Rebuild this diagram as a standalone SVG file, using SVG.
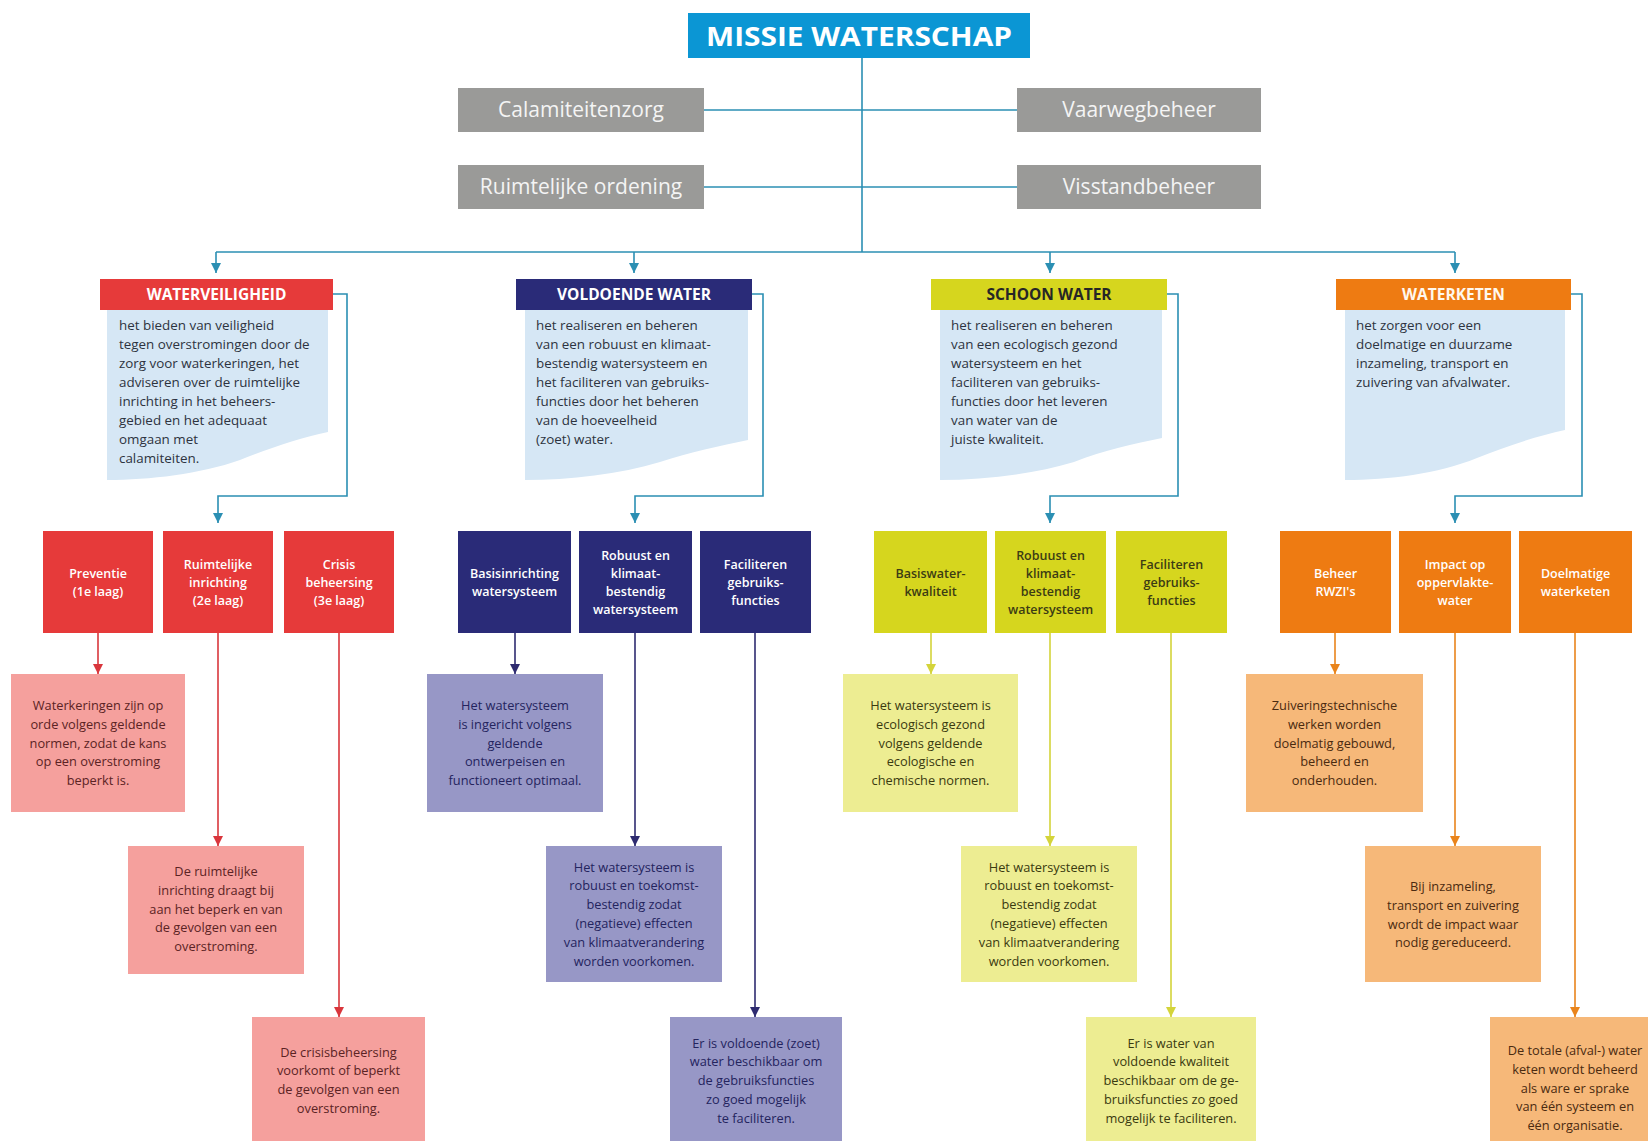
<svg xmlns="http://www.w3.org/2000/svg" width="1648" height="1141" viewBox="0 0 1648 1141">
<defs>
<style>
text{font-family:"Open Sans","Liberation Sans",sans-serif}
.title{font-size:27px;font-weight:700;fill:#fff}
.gray{fill:#9a9a98}
.gt{font-size:21px;fill:#f4f4f4;text-anchor:middle}
.hd{font-size:15.5px;font-weight:700;text-anchor:middle}
.desc{fill:#d6e7f5}
.dt{font-size:13.4px;fill:#2d3340}
.lb{font-size:12.5px;font-weight:600;text-anchor:middle}
.rt{font-size:12.8px;text-anchor:middle}
.c{fill:none;stroke-width:1.6}
.teal{stroke:#2b8fb3}
.red{stroke:#d9363c}
.navy{stroke:#2e2b70}
.yel{stroke:#d4d43a}
.ora{stroke:#e9841c}
</style>
<marker id="mTeal" markerUnits="userSpaceOnUse" markerWidth="12" markerHeight="10" refX="10" refY="5" orient="auto"><path d="M0,0 L10,5 L0,10 z" fill="#2b8fb3"/></marker>
<marker id="mRed" markerUnits="userSpaceOnUse" markerWidth="12" markerHeight="10" refX="10" refY="5" orient="auto"><path d="M0,0 L10,5 L0,10 z" fill="#d9363c"/></marker>
<marker id="mNavy" markerUnits="userSpaceOnUse" markerWidth="12" markerHeight="10" refX="10" refY="5" orient="auto"><path d="M0,0 L10,5 L0,10 z" fill="#2e2b70"/></marker>
<marker id="mYel" markerUnits="userSpaceOnUse" markerWidth="12" markerHeight="10" refX="10" refY="5" orient="auto"><path d="M0,0 L10,5 L0,10 z" fill="#d4d43a"/></marker>
<marker id="mOra" markerUnits="userSpaceOnUse" markerWidth="12" markerHeight="10" refX="10" refY="5" orient="auto"><path d="M0,0 L10,5 L0,10 z" fill="#e9841c"/></marker>
</defs>
<rect width="1648" height="1141" fill="#fff"/>

<g id="connectors">
<path class="c teal" d="M862,58 V252"/>
<path class="c teal" d="M704,110 H1017"/>
<path class="c teal" d="M704,187 H1017"/>
<path class="c teal" d="M216,252 H1455"/>
<path class="c teal" d="M216,252 V273" marker-end="url(#mTeal)"/>
<path class="c teal" d="M634,252 V273" marker-end="url(#mTeal)"/>
<path class="c teal" d="M1050,252 V273" marker-end="url(#mTeal)"/>
<path class="c teal" d="M1455,252 V273" marker-end="url(#mTeal)"/>
<path class="c teal" d="M333,294 H347 V496 H218 V523" marker-end="url(#mTeal)"/>
<path class="c teal" d="M752,294 H763 V496 H635 V523" marker-end="url(#mTeal)"/>
<path class="c teal" d="M1167,294 H1178 V496 H1050 V523" marker-end="url(#mTeal)"/>
<path class="c teal" d="M1571,294 H1582 V496 H1455 V523" marker-end="url(#mTeal)"/>
<path class="c red" d="M98,633 V674" marker-end="url(#mRed)"/>
<path class="c red" d="M218,633 V846" marker-end="url(#mRed)"/>
<path class="c red" d="M339,633 V1017" marker-end="url(#mRed)"/>
<path class="c navy" d="M515,633 V674" marker-end="url(#mNavy)"/>
<path class="c navy" d="M635,633 V846" marker-end="url(#mNavy)"/>
<path class="c navy" d="M755,633 V1017" marker-end="url(#mNavy)"/>
<path class="c yel" d="M931,633 V674" marker-end="url(#mYel)"/>
<path class="c yel" d="M1050,633 V846" marker-end="url(#mYel)"/>
<path class="c yel" d="M1171,633 V1017" marker-end="url(#mYel)"/>
<path class="c ora" d="M1335,633 V674" marker-end="url(#mOra)"/>
<path class="c ora" d="M1455,633 V846" marker-end="url(#mOra)"/>
<path class="c ora" d="M1575,633 V1017" marker-end="url(#mOra)"/>
</g>

<g id="missie">
<rect x="688" y="13" width="342" height="45" fill="#0b96d4"/>
<text class="title" x="859" y="46" text-anchor="middle" textLength="306" lengthAdjust="spacingAndGlyphs">MISSIE WATERSCHAP</text>
</g>
<g id="calamiteitenzorg"><rect class="gray" x="458" y="88" width="246" height="44"/><text class="gt" x="581" y="117">Calamiteitenzorg</text></g>
<g id="vaarwegbeheer"><rect class="gray" x="1017" y="88" width="244" height="44"/><text class="gt" x="1139" y="117">Vaarwegbeheer</text></g>
<g id="ruimtelijke-ordening"><rect class="gray" x="458" y="165" width="246" height="44"/><text class="gt" x="581" y="194">Ruimtelijke ordening</text></g>
<g id="visstandbeheer"><rect class="gray" x="1017" y="165" width="244" height="44"/><text class="gt" x="1139" y="194">Visstandbeheer</text></g>

<!-- WATERVEILIGHEID -->
<g id="waterveiligheid">
<path class="desc" d="M107,310 H328 V432 C300,438 270,448 240,460 C200,474 150,480 107,480 Z"/>
<rect x="100" y="279" width="233" height="31" fill="#e63a3a"/>
<text class="hd" x="216.5" y="300" fill="#fff">WATERVEILIGHEID</text>
<text class="dt" x="119" y="330"><tspan x="119">het bieden van veiligheid</tspan><tspan x="119" dy="19">tegen overstromingen door de</tspan><tspan x="119" dy="19">zorg voor waterkeringen, het</tspan><tspan x="119" dy="19">adviseren over de ruimtelijke</tspan><tspan x="119" dy="19">inrichting in het beheers-</tspan><tspan x="119" dy="19">gebied en het adequaat</tspan><tspan x="119" dy="19">omgaan met</tspan><tspan x="119" dy="19">calamiteiten.</tspan></text>
</g>
<g id="preventie"><rect x="43" y="531" width="110" height="102" fill="#e63a3a"/><text class="lb" fill="#fff" x="98" y="577.5"><tspan x="98">Preventie</tspan><tspan x="98" dy="18">(1e laag)</tspan></text></g>
<g id="ruimtelijke-inrichting"><rect x="163" y="531" width="110" height="102" fill="#e63a3a"/><text class="lb" fill="#fff" x="218" y="568.5"><tspan x="218">Ruimtelijke</tspan><tspan x="218" dy="18">inrichting</tspan><tspan x="218" dy="18">(2e laag)</tspan></text></g>
<g id="crisisbeheersing"><rect x="284" y="531" width="110" height="102" fill="#e63a3a"/><text class="lb" fill="#fff" x="339" y="568.5"><tspan x="339">Crisis</tspan><tspan x="339" dy="18">beheersing</tspan><tspan x="339" dy="18">(3e laag)</tspan></text></g>
<g id="r-preventie"><rect x="11" y="674" width="174" height="138" fill="#f5a09d"/><text class="rt" fill="#5b2324" x="98" y="710"><tspan x="98">Waterkeringen zijn op</tspan><tspan x="98" dy="18.8">orde volgens geldende</tspan><tspan x="98" dy="18.8">normen, zodat de kans</tspan><tspan x="98" dy="18.8">op een overstroming</tspan><tspan x="98" dy="18.8">beperkt is.</tspan></text></g>
<g id="r-ruimtelijke"><rect x="128" y="846" width="176" height="128" fill="#f5a09d"/><text class="rt" fill="#5b2324" x="216" y="876"><tspan x="216">De ruimtelijke</tspan><tspan x="216" dy="18.8">inrichting draagt bij</tspan><tspan x="216" dy="18.8">aan het beperk en van</tspan><tspan x="216" dy="18.8">de gevolgen van een</tspan><tspan x="216" dy="18.8">overstroming.</tspan></text></g>
<g id="r-crisis"><rect x="252" y="1017" width="173" height="130" fill="#f5a09d"/><text class="rt" fill="#5b2324" x="338.5" y="1056.5"><tspan x="338.5">De crisisbeheersing</tspan><tspan x="338.5" dy="18.8">voorkomt of beperkt</tspan><tspan x="338.5" dy="18.8">de gevolgen van een</tspan><tspan x="338.5" dy="18.8">overstroming.</tspan></text></g>

<!-- VOLDOENDE WATER -->
<g id="voldoende-water">
<path class="desc" d="M525,310 H748 V440 C720,446 690,452 660,462 C620,474 570,480 525,480 Z"/>
<rect x="516" y="279" width="236" height="31" fill="#2a2b78"/>
<text class="hd" x="634" y="300" fill="#fff">VOLDOENDE WATER</text>
<text class="dt" x="536" y="330"><tspan x="536">het realiseren en beheren</tspan><tspan x="536" dy="19">van een robuust en klimaat-</tspan><tspan x="536" dy="19">bestendig watersysteem en</tspan><tspan x="536" dy="19">het faciliteren van gebruiks-</tspan><tspan x="536" dy="19">functies door het beheren</tspan><tspan x="536" dy="19">van de hoeveelheid</tspan><tspan x="536" dy="19">(zoet) water.</tspan></text>
</g>
<g id="basisinrichting"><rect x="458" y="531" width="113" height="102" fill="#2a2b78"/><text class="lb" fill="#fff" x="514.5" y="577.5"><tspan x="514.5">Basisinrichting</tspan><tspan x="514.5" dy="18">watersysteem</tspan></text></g>
<g id="robuust-vw"><rect x="579" y="531" width="113" height="102" fill="#2a2b78"/><text class="lb" fill="#fff" x="635.5" y="559.5"><tspan x="635.5">Robuust en</tspan><tspan x="635.5" dy="18">klimaat-</tspan><tspan x="635.5" dy="18">bestendig</tspan><tspan x="635.5" dy="18">watersysteem</tspan></text></g>
<g id="faciliteren-vw"><rect x="700" y="531" width="111" height="102" fill="#2a2b78"/><text class="lb" fill="#fff" x="755.5" y="568.5"><tspan x="755.5">Faciliteren</tspan><tspan x="755.5" dy="18">gebruiks-</tspan><tspan x="755.5" dy="18">functies</tspan></text></g>
<g id="r-basisinrichting"><rect x="427" y="674" width="176" height="138" fill="#9797c6"/><text class="rt" fill="#24245e" x="515" y="710"><tspan x="515">Het watersysteem</tspan><tspan x="515" dy="18.8">is ingericht volgens</tspan><tspan x="515" dy="18.8">geldende</tspan><tspan x="515" dy="18.8">ontwerpeisen en</tspan><tspan x="515" dy="18.8">functioneert optimaal.</tspan></text></g>
<g id="r-robuust-vw"><rect x="546" y="846" width="176" height="136" fill="#9797c6"/><text class="rt" fill="#24245e" x="634" y="871.5"><tspan x="634">Het watersysteem is</tspan><tspan x="634" dy="18.8">robuust en toekomst-</tspan><tspan x="634" dy="18.8">bestendig zodat</tspan><tspan x="634" dy="18.8">(negatieve) effecten</tspan><tspan x="634" dy="18.8">van klimaatverandering</tspan><tspan x="634" dy="18.8">worden voorkomen.</tspan></text></g>
<g id="r-faciliteren-vw"><rect x="670" y="1017" width="172" height="130" fill="#9797c6"/><text class="rt" fill="#24245e" x="756" y="1047.5"><tspan x="756">Er is voldoende (zoet)</tspan><tspan x="756" dy="18.8">water beschikbaar om</tspan><tspan x="756" dy="18.8">de gebruiksfuncties</tspan><tspan x="756" dy="18.8">zo goed mogelijk</tspan><tspan x="756" dy="18.8">te faciliteren.</tspan></text></g>

<!-- SCHOON WATER -->
<g id="schoon-water">
<path class="desc" d="M940,310 H1162 V438 C1134,444 1104,450 1074,462 C1034,474 985,480 940,480 Z"/>
<rect x="931" y="279" width="236" height="31" fill="#d6d61e"/>
<text class="hd" x="1049" y="300" fill="#262626">SCHOON WATER</text>
<text class="dt" x="951" y="330"><tspan x="951">het realiseren en beheren</tspan><tspan x="951" dy="19">van een ecologisch gezond</tspan><tspan x="951" dy="19">watersysteem en het</tspan><tspan x="951" dy="19">faciliteren van gebruiks-</tspan><tspan x="951" dy="19">functies door het leveren</tspan><tspan x="951" dy="19">van water van de</tspan><tspan x="951" dy="19">juiste kwaliteit.</tspan></text>
</g>
<g id="basiswaterkwaliteit"><rect x="874" y="531" width="113" height="102" fill="#d6d61e"/><text class="lb" fill="#3c3c14" x="930.5" y="577.5"><tspan x="930.5">Basiswater-</tspan><tspan x="930.5" dy="18">kwaliteit</tspan></text></g>
<g id="robuust-sw"><rect x="995" y="531" width="111" height="102" fill="#d6d61e"/><text class="lb" fill="#3c3c14" x="1050.5" y="559.5"><tspan x="1050.5">Robuust en</tspan><tspan x="1050.5" dy="18">klimaat-</tspan><tspan x="1050.5" dy="18">bestendig</tspan><tspan x="1050.5" dy="18">watersysteem</tspan></text></g>
<g id="faciliteren-sw"><rect x="1116" y="531" width="111" height="102" fill="#d6d61e"/><text class="lb" fill="#3c3c14" x="1171.5" y="568.5"><tspan x="1171.5">Faciliteren</tspan><tspan x="1171.5" dy="18">gebruiks-</tspan><tspan x="1171.5" dy="18">functies</tspan></text></g>
<g id="r-basiswater"><rect x="843" y="674" width="175" height="138" fill="#eded92"/><text class="rt" fill="#3a3a10" x="930.5" y="710"><tspan x="930.5">Het watersysteem is</tspan><tspan x="930.5" dy="18.8">ecologisch gezond</tspan><tspan x="930.5" dy="18.8">volgens geldende</tspan><tspan x="930.5" dy="18.8">ecologische en</tspan><tspan x="930.5" dy="18.8">chemische normen.</tspan></text></g>
<g id="r-robuust-sw"><rect x="961" y="846" width="176" height="136" fill="#eded92"/><text class="rt" fill="#3a3a10" x="1049" y="871.5"><tspan x="1049">Het watersysteem is</tspan><tspan x="1049" dy="18.8">robuust en toekomst-</tspan><tspan x="1049" dy="18.8">bestendig zodat</tspan><tspan x="1049" dy="18.8">(negatieve) effecten</tspan><tspan x="1049" dy="18.8">van klimaatverandering</tspan><tspan x="1049" dy="18.8">worden voorkomen.</tspan></text></g>
<g id="r-faciliteren-sw"><rect x="1086" y="1017" width="170" height="130" fill="#eded92"/><text class="rt" fill="#3a3a10" x="1171" y="1047.5"><tspan x="1171">Er is water van</tspan><tspan x="1171" dy="18.8">voldoende kwaliteit</tspan><tspan x="1171" dy="18.8">beschikbaar om de ge-</tspan><tspan x="1171" dy="18.8">bruiksfuncties zo goed</tspan><tspan x="1171" dy="18.8">mogelijk te faciliteren.</tspan></text></g>

<!-- WATERKETEN -->
<g id="waterketen">
<path class="desc" d="M1345,310 H1565 V430 C1537,436 1507,446 1477,458 C1437,474 1390,480 1345,480 Z"/>
<rect x="1336" y="279" width="235" height="31" fill="#ee7b12"/>
<text class="hd" x="1453.5" y="300" fill="#fff8ee">WATERKETEN</text>
<text class="dt" x="1356" y="330"><tspan x="1356">het zorgen voor een</tspan><tspan x="1356" dy="19">doelmatige en duurzame</tspan><tspan x="1356" dy="19">inzameling, transport en</tspan><tspan x="1356" dy="19">zuivering van afvalwater.</tspan></text>
</g>
<g id="beheer-rwzi"><rect x="1280" y="531" width="111" height="102" fill="#ee7b12"/><text class="lb" fill="#fff" x="1335.5" y="577.5"><tspan x="1335.5">Beheer</tspan><tspan x="1335.5" dy="18">RWZI's</tspan></text></g>
<g id="impact"><rect x="1399" y="531" width="112" height="102" fill="#ee7b12"/><text class="lb" fill="#fff" x="1455" y="568.5"><tspan x="1455">Impact op</tspan><tspan x="1455" dy="18">oppervlakte-</tspan><tspan x="1455" dy="18">water</tspan></text></g>
<g id="doelmatige"><rect x="1519" y="531" width="113" height="102" fill="#ee7b12"/><text class="lb" fill="#fff" x="1575.5" y="577.5"><tspan x="1575.5">Doelmatige</tspan><tspan x="1575.5" dy="18">waterketen</tspan></text></g>
<g id="r-beheer"><rect x="1246" y="674" width="177" height="138" fill="#f6b879"/><text class="rt" fill="#4a2a10" x="1334.5" y="710"><tspan x="1334.5">Zuiveringstechnische</tspan><tspan x="1334.5" dy="18.8">werken worden</tspan><tspan x="1334.5" dy="18.8">doelmatig gebouwd,</tspan><tspan x="1334.5" dy="18.8">beheerd en</tspan><tspan x="1334.5" dy="18.8">onderhouden.</tspan></text></g>
<g id="r-impact"><rect x="1365" y="846" width="176" height="136" fill="#f6b879"/><text class="rt" fill="#4a2a10" x="1453" y="891"><tspan x="1453">Bij inzameling,</tspan><tspan x="1453" dy="18.8">transport en zuivering</tspan><tspan x="1453" dy="18.8">wordt de impact waar</tspan><tspan x="1453" dy="18.8">nodig gereduceerd.</tspan></text></g>
<g id="r-doelmatige"><rect x="1490" y="1017" width="170" height="130" fill="#f6b879"/><text class="rt" fill="#4a2a10" x="1575" y="1055"><tspan x="1575">De totale (afval-) water</tspan><tspan x="1575" dy="18.8">keten wordt beheerd</tspan><tspan x="1575" dy="18.8">als ware er sprake</tspan><tspan x="1575" dy="18.8">van één systeem en</tspan><tspan x="1575" dy="18.8">één organisatie.</tspan></text></g>
</svg>
